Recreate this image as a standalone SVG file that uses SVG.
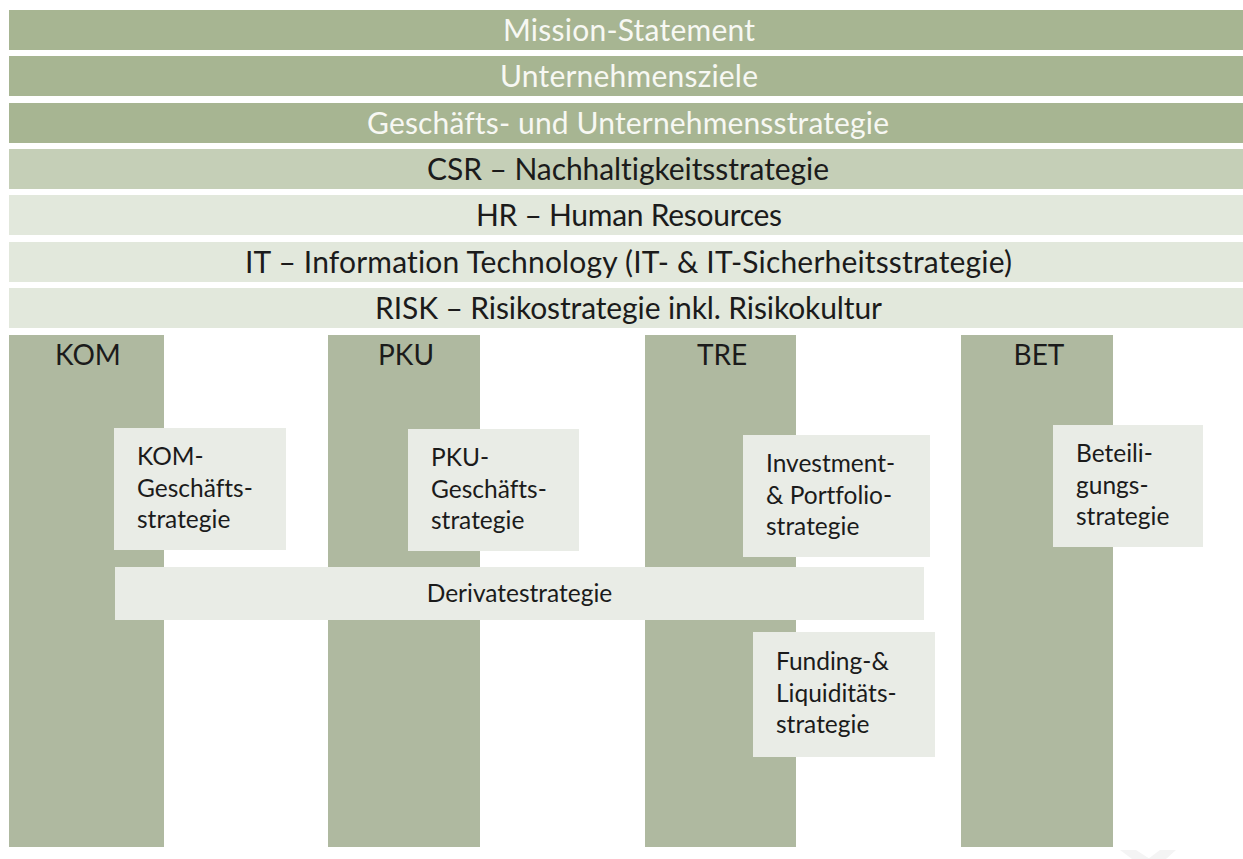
<svg xmlns="http://www.w3.org/2000/svg" width="1243" height="859" viewBox="0 0 1243 859">
  <style>
    .lvl-dark { fill: #a7b592; }
    .lvl-mid { fill: #c5cfb7; }
    .lvl-light { fill: #e2e8dc; }
    .pillar { fill: #afb9a0; }
    .box { fill: #e9ece6; }
    text { font-family: Lato, "Open Sans", "Liberation Sans", sans-serif; font-variant-ligatures: none; }
    .t-bar { font-size: 30px; text-anchor: middle; }
    .t-white { fill: #f7f8f3; }
    .t-dark { fill: #1b1b1b; }
    .t-pillar { font-size: 28px; fill: #1b1b1b; text-anchor: middle; }
    .t-box { font-size: 24.5px; fill: #1b1b1b; }
  </style>

  <rect width="1243" height="859" fill="#ffffff"/>

  <!-- strategy levels, top to bottom -->
  <g id="mission">
    <rect class="lvl-dark" x="9" y="10" width="1234" height="40"/>
    <text class="t-bar t-white" x="629" y="40.5" textLength="252">Mission-Statement</text>
  </g>
  <g id="ziele">
    <rect class="lvl-dark" x="9" y="56" width="1234" height="40"/>
    <text class="t-bar t-white" x="629" y="86.5" textLength="258">Unternehmensziele</text>
  </g>
  <g id="geschaeftsstrategie">
    <rect class="lvl-dark" x="9" y="103" width="1234" height="40"/>
    <text class="t-bar t-white" x="628" y="133.5" textLength="522">Geschäfts- und Unternehmensstrategie</text>
  </g>
  <g id="csr">
    <rect class="lvl-mid" x="9" y="149" width="1234" height="40"/>
    <text class="t-bar t-dark" x="628" y="179.5" textLength="402">CSR – Nachhaltigkeitsstrategie</text>
  </g>
  <g id="hr">
    <rect class="lvl-light" x="9" y="195" width="1234" height="40"/>
    <text class="t-bar t-dark" x="629" y="225.5" textLength="306">HR – Human Resources</text>
  </g>
  <g id="it">
    <rect class="lvl-light" x="9" y="242" width="1234" height="40"/>
    <text class="t-bar t-dark" x="628.5" y="272.5" textLength="767">IT – Information Technology (IT- &amp; IT-Sicherheitsstrategie)</text>
  </g>
  <g id="risk">
    <rect class="lvl-light" x="9" y="288" width="1234" height="40"/>
    <text class="t-bar t-dark" x="628.5" y="318.5" textLength="507">RISK – Risikostrategie inkl. Risikokultur</text>
  </g>

  <!-- business unit pillars -->
  <g id="kom">
    <rect class="pillar" x="9" y="335" width="155" height="512"/>
    <text class="t-pillar" x="88" y="365">KOM</text>
  </g>
  <g id="pku">
    <rect class="pillar" x="328" y="335" width="152" height="512"/>
    <text class="t-pillar" x="406" y="365">PKU</text>
  </g>
  <g id="tre">
    <rect class="pillar" x="645" y="335" width="151" height="512"/>
    <text class="t-pillar" x="722" y="365">TRE</text>
  </g>
  <g id="bet">
    <rect class="pillar" x="961" y="335" width="152" height="512"/>
    <text class="t-pillar" x="1039" y="365">BET</text>
  </g>

  <!-- sub-strategies -->
  <g id="kom-strategie">
    <rect class="box" x="114" y="428" width="172" height="122"/>
    <text class="t-box" x="137" y="465">KOM-</text>
    <text class="t-box" x="137" y="496.5">Geschäfts-</text>
    <text class="t-box" x="137" y="528">strategie</text>
  </g>
  <g id="pku-strategie">
    <rect class="box" x="408" y="429" width="171" height="122"/>
    <text class="t-box" x="431" y="466">PKU-</text>
    <text class="t-box" x="431" y="497.5">Geschäfts-</text>
    <text class="t-box" x="431" y="529">strategie</text>
  </g>
  <g id="investment-strategie">
    <rect class="box" x="743" y="435" width="187" height="122"/>
    <text class="t-box" x="766" y="472">Investment-</text>
    <text class="t-box" x="766" y="503.5">&amp; Portfolio-</text>
    <text class="t-box" x="766" y="535">strategie</text>
  </g>
  <g id="beteiligungs-strategie">
    <rect class="box" x="1053" y="425" width="150" height="122"/>
    <text class="t-box" x="1076" y="462">Beteili-</text>
    <text class="t-box" x="1076" y="493.5">gungs-</text>
    <text class="t-box" x="1076" y="525">strategie</text>
  </g>
  <g id="derivate-strategie">
    <rect class="box" x="115" y="567" width="809" height="53"/>
    <text class="t-box" x="519.5" y="602" text-anchor="middle">Derivatestrategie</text>
  </g>
  <g id="funding-strategie">
    <rect class="box" x="753" y="632" width="182" height="125"/>
    <text class="t-box" x="776" y="670">Funding-&amp;</text>
    <text class="t-box" x="776" y="701.5">Liquiditäts-</text>
    <text class="t-box" x="776" y="733">strategie</text>
  </g>

  <!-- faint mark at the lower edge -->
  <g id="edge-mark" fill="#f4f4f4">
    <polygon points="1120,850 1136,850 1150,859 1132,859"/>
    <polygon points="1160,850 1176,850 1166,859 1148,859"/>
  </g>
</svg>
